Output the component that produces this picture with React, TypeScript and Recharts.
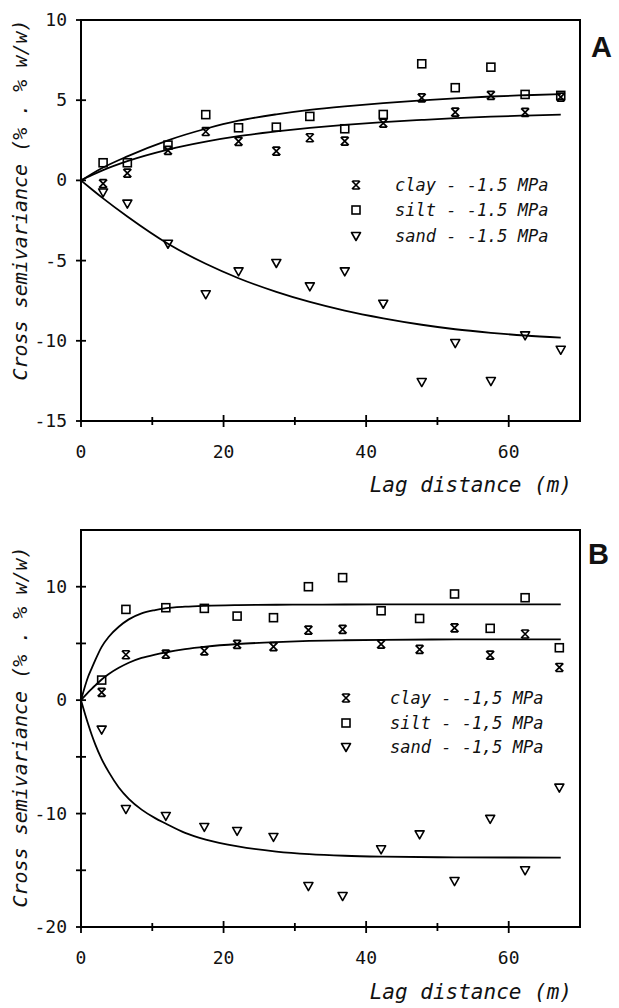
import React from 'react'
import {
  ComposedChart,
  Line,
  Scatter,
  XAxis,
  YAxis,
  ReferenceArea,
  Legend,
} from 'recharts'

// lag distances (m) of the experimental points
const lagsA = [3.1, 6.5, 12.2, 17.5, 22.1, 27.4, 32.1, 37.0, 42.4, 47.8, 52.5, 57.5, 62.3, 67.3]
const lagsB = [2.9, 6.3, 11.9, 17.3, 21.9, 27.0, 31.9, 36.7, 42.1, 47.5, 52.4, 57.4, 62.3, 67.1]

// panel A, experimental cross semivariances
const clayA = [-0.2, 0.45, 1.87, 3.05, 2.43, 1.83, 2.66, 2.45, 3.57, 5.15, 4.26, 5.3, 4.24, 5.19]
const siltA = [1.1, 1.1, 2.2, 4.1, 3.28, 3.32, 3.99, 3.22, 4.11, 7.27, 5.78, 7.06, 5.36, 5.3]
const sandA = [-0.75, -1.45, -3.95, -7.1, -5.67, -5.15, -6.61, -5.67, -7.69, -12.57, -10.14, -12.51, -9.66, -10.56]

// panel A, fitted models
const fitXA = [0, 1.5, 3.1, 6.5, 12.2, 17.5, 22.1, 27.4, 32.1, 37, 42.4, 47.8, 52.5, 57.5, 62.3, 67.3]
const siltFitA = [0, 0.4, 0.8, 1.5, 2.5, 3.22, 3.72, 4.12, 4.4, 4.62, 4.82, 4.99, 5.12, 5.23, 5.31, 5.38]
const clayFitA = [0, 0.32, 0.64, 1.2, 1.92, 2.42, 2.76, 3.05, 3.27, 3.46, 3.63, 3.77, 3.88, 3.97, 4.04, 4.1]
const sandFitA = [0, -0.55, -1.12, -2.25, -3.95, -5.2, -6.1, -6.95, -7.58, -8.12, -8.6, -9.0, -9.28, -9.5, -9.67, -9.8]

// panel B, experimental cross semivariances
const clayB = [0.68, 4.0, 4.06, 4.35, 4.91, 4.71, 6.18, 6.24, 4.94, 4.47, 6.38, 3.97, 5.83, 2.88]
const siltB = [1.77, 8.0, 8.15, 8.09, 7.41, 7.27, 10.0, 10.8, 7.88, 7.2, 9.36, 6.33, 9.03, 4.62]
const sandB = [-2.6, -9.6, -10.21, -11.18, -11.53, -12.06, -16.39, -17.27, -13.15, -11.83, -15.95, -10.47, -15.0, -7.71]

// panel B, fitted models
const fitXB = [0, 1.0, 1.5, 2.0, 2.9, 3.9, 5.3, 6.7, 8.5, 10.4, 11.8, 14.6, 17.5, 22, 27.4, 32, 37, 42.4, 52.5, 67.3]
const siltFitB = [0, 2.06, 2.8, 3.53, 4.7, 5.59, 6.47, 7.12, 7.65, 7.94, 8.09, 8.24, 8.32, 8.38, 8.41, 8.42, 8.43, 8.44, 8.44, 8.44]
const clayFitB = [0, 0.68, 1.0, 1.3, 1.82, 2.3, 2.85, 3.3, 3.72, 4.02, 4.2, 4.5, 4.72, 4.95, 5.12, 5.22, 5.28, 5.32, 5.35, 5.35]
const sandFitB = [0, -2.1, -3.05, -3.9, -5.2, -6.35, -7.7, -8.7, -9.65, -10.4, -10.85, -11.7, -12.3, -12.9, -13.35, -13.58, -13.72, -13.8, -13.86, -13.88]

const xTicks = [0, 10, 20, 30, 40, 50, 60]
const yTicksA = [-15, -10, -5, 0, 5, 10]
const yTicksB = [-20, -15, -10, -5, 0, 5, 10]

const legendA = ['clay - -1.5 MPa', 'silt - -1.5 MPa', 'sand - -1.5 MPa']
const legendB = ['clay - -1,5 MPa', 'silt - -1,5 MPa', 'sand - -1,5 MPa']

const FONT = '"DejaVu Sans Mono", monospace'

type Pt = { x: number; y: number }
const pts = (xs: number[], ys: number[]): Pt[] => xs.map((x, i) => ({ x, y: ys[i] }))

const ClayMark = ({ cx, cy }: any) => (
  <path
    d={`M${cx - 4},${cy - 4}L${cx + 4},${cy + 4}M${cx + 4},${cy - 4}L${cx - 4},${cy + 4}M${cx - 3.5},${cy - 4}H${cx + 3.5}M${cx - 3.5},${cy + 4}H${cx + 3.5}`}
    stroke="#000"
    strokeWidth={1.7}
    fill="none"
  />
)
const SiltMark = ({ cx, cy }: any) => (
  <rect x={cx - 4} y={cy - 4} width={8} height={8} stroke="#000" strokeWidth={1.6} fill="none" />
)
const SandMark = ({ cx, cy }: any) => (
  <path
    d={`M${cx - 4.5},${cy - 3.5}L${cx + 4.5},${cy - 3.5}L${cx},${cy + 4.5}Z`}
    stroke="#000"
    strokeWidth={1.6}
    strokeLinejoin="round"
    fill="none"
  />
)
const MARKS = [ClayMark, SiltMark, SandMark]

const XTick = ({ x, y, payload }: any) => {
  const major = payload.value % 20 === 0
  const h = major ? 6 : 4
  return (
    <g>
      <line x1={x} x2={x} y1={y - h} y2={y + h} stroke="#000" strokeWidth={1.8} />
      {major && (
        <text x={x} y={y + 37} textAnchor="middle" fontFamily={FONT} fontSize={18} fill="#111">
          {payload.value}
        </text>
      )}
    </g>
  )
}

const makeYTick = (every: number) => ({ x, y, payload }: any) => (
  <g>
    <line x1={x - 5} x2={x + 5} y1={y} y2={y} stroke="#000" strokeWidth={1.8} />
    {payload.value % every === 0 && (
      <text x={x - 14} y={y + 6} textAnchor="end" fontFamily={FONT} fontSize={18} fill="#111">
        {payload.value}
      </text>
    )}
  </g>
)

const YTitle = ({ px, py }: any) => (
  <text
    x={px}
    y={py}
    transform={`rotate(-90, ${px}, ${py})`}
    textAnchor="middle"
    fontFamily={FONT}
    fontStyle="italic"
    fontSize={20}
    fill="#111"
  >
    Cross semivariance (% . % w/w)
  </text>
)

const XTitle = ({ px, py }: any) => (
  <text x={px} y={py} textAnchor="end" fontFamily={FONT} fontStyle="italic" fontSize={21} fill="#111">
    Lag distance (m)
  </text>
)

const LegendBox = ({ labels, rowH, gap }: { labels: string[]; rowH: number; gap: number }) => (
  <div style={{ fontFamily: FONT, fontStyle: 'italic', fontSize: 17, color: '#111' }}>
    {labels.map((t, i) => {
      const Mark = MARKS[i]
      return (
        <div key={t} style={{ display: 'flex', alignItems: 'center', height: rowH }}>
          <svg width={16} height={16} style={{ display: 'block' }}>
            <Mark cx={8} cy={8} />
          </svg>
          <span style={{ marginLeft: gap, whiteSpace: 'pre' }}>{t}</span>
        </div>
      )
    })}
  </div>
)

type PanelProps = {
  lags: number[]
  clay: number[]
  silt: number[]
  sand: number[]
  fitX: number[]
  clayFit: number[]
  siltFit: number[]
  sandFit: number[]
  yDomain: [number, number]
  yTicks: number[]
  labelEvery: number
  legend: string[]
  legendPos: { left: number; top: number; rowH: number; gap: number }
  height: number
  top: number
  xAxisHeight: number
  yTitleY: number
  xTitleY: number
}

function Panel(p: PanelProps) {
  const curve = (ys: number[], key: string) => (
    <Line
      key={key}
      data={pts(p.fitX, ys)}
      dataKey="y"
      type="monotone"
      stroke="#000"
      strokeWidth={1.8}
      dot={false}
      activeDot={false}
      isAnimationActive={false}
    />
  )
  return (
    <ComposedChart
      width={619}
      height={p.height}
      margin={{ top: p.top, right: 39, left: 0, bottom: 0 }}
    >
      <XAxis
        type="number"
        dataKey="x"
        domain={[0, 70]}
        ticks={xTicks}
        interval={0}
        height={p.xAxisHeight}
        tickSize={0}
        tickMargin={0}
        tickLine={false}
        tick={<XTick />}
        axisLine={{ stroke: '#000', strokeWidth: 2 }}
        label={<XTitle px={572} py={p.xTitleY} />}
      />
      <YAxis
        type="number"
        dataKey="y"
        domain={p.yDomain}
        ticks={p.yTicks}
        interval={0}
        width={81}
        tickSize={0}
        tickMargin={0}
        tickLine={false}
        tick={makeYTick(p.labelEvery)}
        axisLine={{ stroke: '#000', strokeWidth: 2 }}
        label={<YTitle px={27} py={p.yTitleY} />}
      />
      <ReferenceArea
        x1={0}
        x2={70}
        y1={p.yDomain[0]}
        y2={p.yDomain[1]}
        fill="none"
        fillOpacity={0}
        stroke="#000"
        strokeWidth={2}
      />
      {curve(p.siltFit, 'siltFit')}
      {curve(p.clayFit, 'clayFit')}
      {curve(p.sandFit, 'sandFit')}
      <Scatter data={pts(p.lags, p.clay)} dataKey="y" shape={<ClayMark />} isAnimationActive={false} />
      <Scatter data={pts(p.lags, p.silt)} dataKey="y" shape={<SiltMark />} isAnimationActive={false} />
      <Scatter data={pts(p.lags, p.sand)} dataKey="y" shape={<SandMark />} isAnimationActive={false} />
      <Legend
        layout="vertical"
        align="center"
        verticalAlign="middle"
        wrapperStyle={{ left: p.legendPos.left, top: p.legendPos.top, width: 240 }}
        content={() => (
          <LegendBox labels={p.legend} rowH={p.legendPos.rowH} gap={p.legendPos.gap} />
        )}
      />
    </ComposedChart>
  )
}

const letterStyle: React.CSSProperties = {
  position: 'absolute',
  fontFamily: '"Liberation Sans", Arial, sans-serif',
  fontWeight: 700,
  fontSize: 29,
  lineHeight: '29px',
  color: '#111',
}

export default function App() {
  return (
    <div style={{ position: 'absolute', left: 0, top: 0, width: 619, height: 1008, background: '#fff' }}>
      <div style={{ position: 'absolute', left: 0, top: 0 }}>
        <Panel
          lags={lagsA}
          clay={clayA}
          silt={siltA}
          sand={sandA}
          fitX={fitXA}
          clayFit={clayFitA}
          siltFit={siltFitA}
          sandFit={sandFitA}
          yDomain={[-15, 10]}
          yTicks={yTicksA}
          labelEvery={5}
          legend={legendA}
          legendPos={{ left: 348, top: 172, rowH: 25.5, gap: 31 }}
          height={500}
          top={20}
          xAxisHeight={79}
          yTitleY={200}
          xTitleY={492}
        />
      </div>
      <div style={{ position: 'absolute', left: 0, top: 500 }}>
        <Panel
          lags={lagsB}
          clay={clayB}
          silt={siltB}
          sand={sandB}
          fitX={fitXB}
          clayFit={clayFitB}
          siltFit={siltFitB}
          sandFit={sandFitB}
          yDomain={[-20, 15]}
          yTicks={yTicksB}
          labelEvery={10}
          legend={legendB}
          legendPos={{ left: 338, top: 186, rowH: 24.5, gap: 36 }}
          height={508}
          top={30}
          xAxisHeight={81}
          yTitleY={227}
          xTitleY={499}
        />
      </div>
      <div style={{ ...letterStyle, left: 591, top: 33 }}>A</div>
      <div style={{ ...letterStyle, left: 588, top: 540 }}>B</div>
    </div>
  )
}
